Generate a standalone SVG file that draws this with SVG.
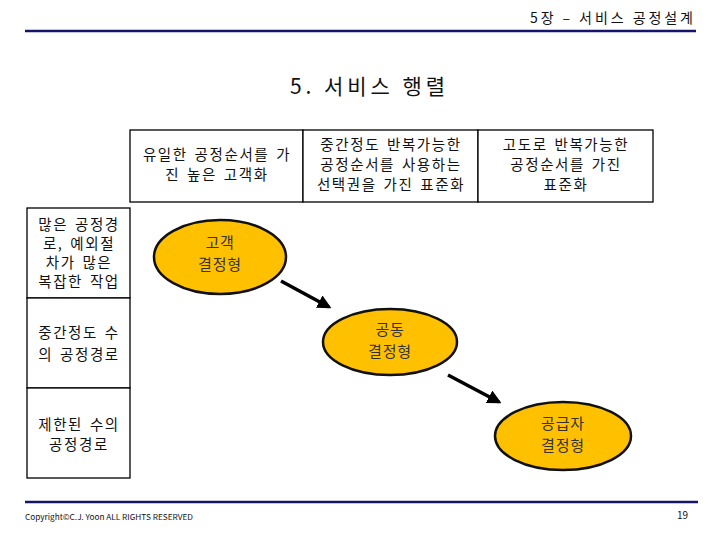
<svg xmlns="http://www.w3.org/2000/svg" width="720" height="540" viewBox="0 0 720 540">
<defs>
<style>
text{font-family:"Noto Sans CJK KR","Liberation Sans",sans-serif;fill:#111;}
.cell{fill:#fff;stroke:#000;stroke-width:1.3;}
.t{font-size:14.5px;text-anchor:middle;letter-spacing:1.6px;word-spacing:2px;}
.ell{fill:#FFC000;stroke:#111;stroke-width:2.5;}
.et{font-size:15px;text-anchor:middle;fill:#333;letter-spacing:0.8px;}
.rule{stroke:#14146b;stroke-width:2.5;}
.arr{stroke:#000;stroke-width:3.5;fill:none;marker-end:url(#ah);}
</style>
<marker id="ah" viewBox="0 0 10 10" refX="8" refY="5" markerWidth="4" markerHeight="4" orient="auto" markerUnits="strokeWidth">
<path d="M0,0 L10,5 L0,10 z" fill="#000"/>
</marker>
</defs>
<rect width="720" height="540" fill="#fff"/>
<line class="rule" x1="25" y1="31" x2="696" y2="31"/>
<text x="530" y="23" font-size="14" textLength="163" lengthAdjust="spacing">5장 – 서비스 공정설계</text>
<text x="290" y="94" font-size="21" textLength="155" lengthAdjust="spacing">5. 서비스 행렬</text>

<g id="col-headers">
<rect class="cell" x="130" y="130" width="173" height="72"/>
<rect class="cell" x="303" y="130" width="175" height="72"/>
<rect class="cell" x="478" y="130" width="175" height="72"/>
<text class="t" x="217" y="160">유일한 공정순서를 가</text>
<text class="t" x="217" y="180">진 높은 고객화</text>
<text class="t" x="391" y="150">중간정도 반복가능한</text>
<text class="t" x="391" y="170">공정순서를 사용하는</text>
<text class="t" x="391" y="190">선택권을 가진 표준화</text>
<text class="t" x="566" y="150">고도로 반복가능한</text>
<text class="t" x="566" y="170">공정순서를 가진</text>
<text class="t" x="566" y="190">표준화</text>
</g>

<g id="row-headers">
<rect class="cell" x="27" y="208" width="103" height="90"/>
<rect class="cell" x="27" y="298" width="103" height="90"/>
<rect class="cell" x="27" y="388" width="103" height="90"/>
<text class="t" x="79" y="230">많은 공정경</text>
<text class="t" x="79" y="249">로, 예외절</text>
<text class="t" x="79" y="268">차가 많은</text>
<text class="t" x="79" y="287">복잡한 작업</text>
<text class="t" x="79" y="338">중간정도 수</text>
<text class="t" x="79" y="360">의 공정경로</text>
<text class="t" x="79" y="430">제한된 수의</text>
<text class="t" x="79" y="450">공정경로</text>
</g>

<g id="node-customer">
<ellipse class="ell" cx="220" cy="257" rx="66" ry="37"/>
<text class="et" x="220" y="248">고객</text>
<text class="et" x="220" y="270">결정형</text>
</g>
<g id="node-joint">
<ellipse class="ell" cx="390" cy="342" rx="67" ry="33"/>
<text class="et" x="390" y="335">공동</text>
<text class="et" x="390" y="357">결정형</text>
</g>
<g id="node-supplier">
<ellipse class="ell" cx="563" cy="436" rx="68" ry="34"/>
<text class="et" x="563" y="429">공급자</text>
<text class="et" x="563" y="451">결정형</text>
</g>

<g id="connectors">
<line class="arr" x1="281" y1="281" x2="329" y2="307"/>
<line class="arr" x1="448" y1="375" x2="499" y2="402"/>
</g>

<line class="rule" x1="25" y1="502" x2="698" y2="502"/>
<text x="25" y="520" font-size="8" fill="#444" textLength="168" lengthAdjust="spacingAndGlyphs" font-family="Liberation Sans, sans-serif">Copyright©C.J. Yoon ALL RIGHTS RESERVED</text>
<text x="688" y="519" font-size="10" fill="#444" text-anchor="end" font-family="Liberation Sans, sans-serif">19</text>
</svg>
